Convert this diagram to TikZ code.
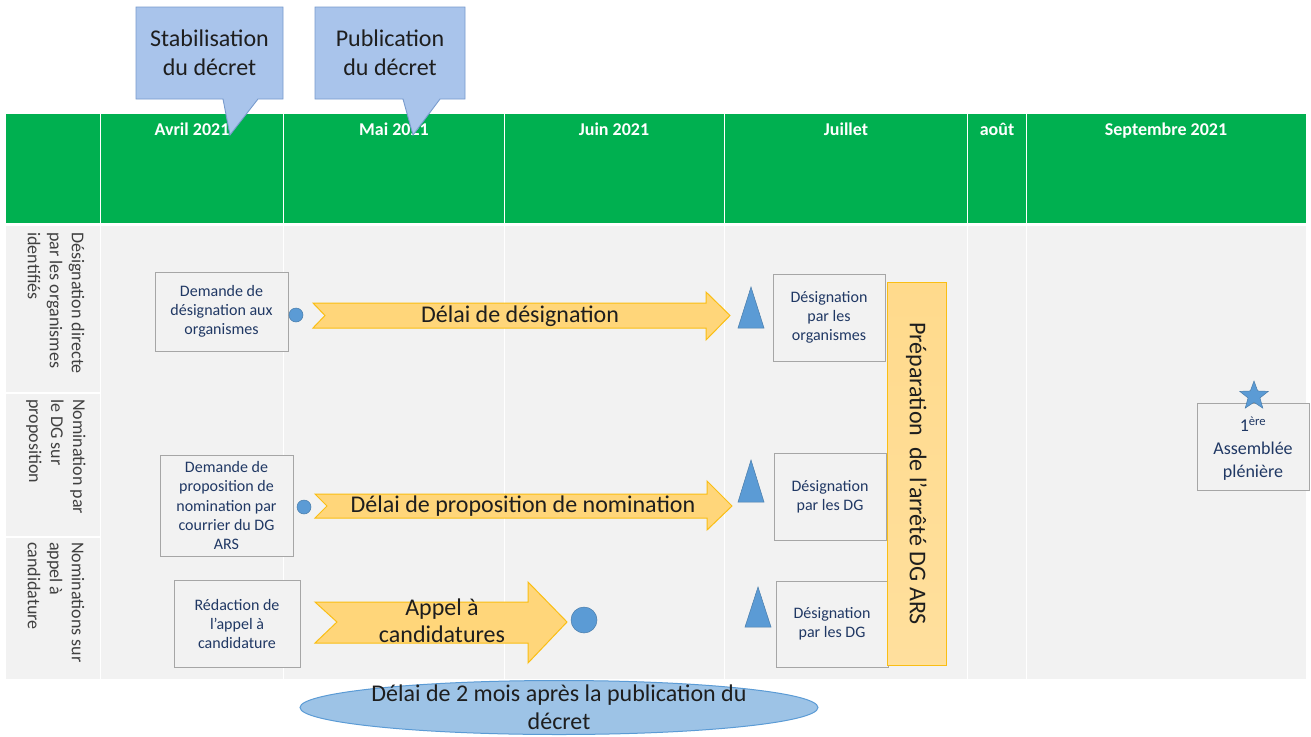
\documentclass[tikz,border=0pt]{standalone}
\usepackage{fontspec}
\setmainfont{Carlito}
\usetikzlibrary{shapes.geometric}
\definecolor{hgreen}{RGB}{0,176,80}
\definecolor{bodygray}{RGB}{242,242,242}
\definecolor{boxgray}{RGB}{166,166,166}
\definecolor{navy}{RGB}{32,56,100}
\definecolor{lblgray}{RGB}{64,64,64}
\definecolor{darktext}{RGB}{30,30,30}
\definecolor{cfill}{RGB}{169,196,235}
\definecolor{cedge}{RGB}{120,155,205}
\definecolor{ofill}{RGB}{255,214,122}
\definecolor{oedge}{RGB}{250,190,20}
\definecolor{pfill}{RGB}{255,218,140}
\definecolor{bshape}{RGB}{91,155,213}
\definecolor{efill}{RGB}{157,195,230}
\tikzset{
  box/.style={draw=boxgray, fill=bodygray, line width=0.9pt, text=navy,
    font=\fontsize{16}{19.3}\selectfont, align=center, inner sep=0pt},
  rowlbl/.style={rotate=-90, anchor=west, align=left, text=lblgray,
    font=\fontsize{18}{22}\selectfont, inner sep=0pt},
  hdr/.style={text=white, font=\bfseries\fontsize{18}{22}\selectfont, anchor=base, inner sep=0pt},
  big/.style={font=\fontsize{24}{28.5}\selectfont, text=darktext, align=center, inner sep=0pt},
  callout/.style={fill=cfill, draw=cedge, line width=0.9pt},
  orangearrow/.style={fill=ofill, draw=oedge, line width=1pt},
  tri/.style={fill=bshape, draw=bshape!80!black, line width=0.5pt},
  dot/.style={fill=bshape, draw=bshape!80!black, line width=0.5pt},
}
\begin{document}
\begin{tikzpicture}[x=1pt, y=-1pt]
\useasboundingbox (0,0) rectangle (1311,736);
\fill[white] (0,0) rectangle (1311,736);
% header
\fill[hgreen] (6,114) rectangle (1306,223);
\fill[bodygray] (6,226) rectangle (1306,679);
\foreach \xx in {100.5,283.5,504.5,724.5,967.5,1026.5}{
  \draw[white, line width=1.5pt] (\xx,114) -- (\xx,679);
}
\draw[white, line width=1.5pt] (6,393) -- (100,393);
\draw[white, line width=1.5pt] (6,537) -- (100,537);
\node[hdr] (h1) at (192,135) {Avril 2021};
\node[hdr] (h2) at (394,135) {Mai 2021};
\node[hdr] (h3) at (614,135) {Juin 2021};
\node[hdr] (h4) at (846,135) {Juillet};
\node[hdr] (h5) at (997,135) {août};
\node[hdr] (h6) at (1166,135) {Septembre 2021};
% callouts
\draw[callout] (136,7) -- (283,7) -- (283,99) -- (258,99) -- (230,135) -- (223,99) -- (136,99) -- cycle;
\node[big, font=\fontsize{24}{29}\selectfont] (c1) at (209.5,53) {Stabilisation\\du décret};
\draw[callout] (315,7) -- (465,7) -- (465,99) -- (440,99) -- (413,135) -- (403,99) -- (315,99) -- cycle;
\node[big, font=\fontsize{24}{29}\selectfont] (c2) at (390,53) {Publication\\du décret};
% row labels
\node[rowlbl] (r1) at (56,232) {Désignation directe\\par les organismes\\identifiés};
\node[rowlbl] (r2) at (56,399) {Nomination par\\le DG sur\\proposition};
\node[rowlbl] (r3) at (56,542) {Nominations sur\\appel à\\candidature};
% left boxes
\node[box, minimum width=133pt, minimum height=79pt] (b1) at (221.5,311.5) {Demande de\\désignation aux\\organismes};
\node[box, minimum width=133pt, minimum height=101pt] (b2) at (226.5,505.5) {Demande de\\proposition de\\nomination par\\courrier du DG\\ARS};
\node[box, minimum width=126pt, minimum height=87pt] (b3) at (237,624) {Rédaction de\\l’appel à\\candidature};
% dots
\node[dot, circle, minimum size=14pt, inner sep=0pt] (d1) at (296,315) {};
\node[dot, circle, minimum size=14pt, inner sep=0pt] (d2) at (304,507) {};
\node[dot, circle, minimum size=26pt, inner sep=0pt] (d3) at (584,620) {};
% arrows
\draw[orangearrow] (313,303) -- (706,303) -- (706,292) -- (730,315.5) -- (706,340) -- (706,328) -- (313,328) -- (325,315.5) -- cycle;
\node[big] (a1) at (520,316) {Délai de désignation};
\draw[orangearrow] (315,494) -- (707,494) -- (707,481) -- (732,506) -- (707,530) -- (707,518) -- (315,518) -- (327,506) -- cycle;
\node[big] (a2) at (523,506) {Délai de proposition de nomination};
\draw[orangearrow] (315,602) -- (528,602) -- (528,582) -- (567,622) -- (528,663) -- (528,643) -- (315,643) -- (337,622) -- cycle;
\node[big, font=\fontsize{24}{27}\selectfont] (a3) at (442,621) {Appel à\\candidatures};
% triangles
\draw[tri] (738,328) -- (764,328) -- (751,287) -- cycle;
\draw[tri] (738,502) -- (764,502) -- (751,460) -- cycle;
\draw[tri] (745,627) -- (771,627) -- (758,587) -- cycle;
% right boxes
\node[box, minimum width=112pt, minimum height=87pt] (rb1) at (829,317.5) {Désignation\\par les\\organismes};
\node[box, minimum width=112pt, minimum height=87pt] (rb2) at (830,497) {Désignation\\par les DG};
\node[box, minimum width=112pt, minimum height=86pt] (rb3) at (832,624) {Désignation\\par les DG};
% preparation bar
\node[draw=oedge, line width=1pt, top color=pfill, bottom color=pfill!85!white,
      minimum width=59pt, minimum height=383pt, inner sep=0pt] (prep) at (916.5,473.5) {};
\node[big, rotate=-90] (preptxt) at (prep.center) {Préparation\ \ de l'arrêté DG ARS};
% assemblee
\node[box, minimum width=112pt, minimum height=87pt] (asm) at (1253,447) {};
\node[text=navy, align=center, inner sep=0pt, font=\fontsize{18}{23}\selectfont] (asmtxt) at (1253,449) {1\textsuperscript{ère}\\Assemblée\\plénière};
\node[star, star points=5, star point ratio=2.4, minimum size=30pt, inner sep=0pt, fill=bshape, draw=bshape!80!black, line width=0.5pt] (st) at (1254,396) {};
% ellipse
\draw[fill=efill, draw=bshape, line width=1pt] (559,707.5) ellipse [x radius=259, y radius=27];
\node[big] (ell) at (559,707) {Délai de 2 mois après la publication du\\décret};
\end{tikzpicture}
\end{document}
